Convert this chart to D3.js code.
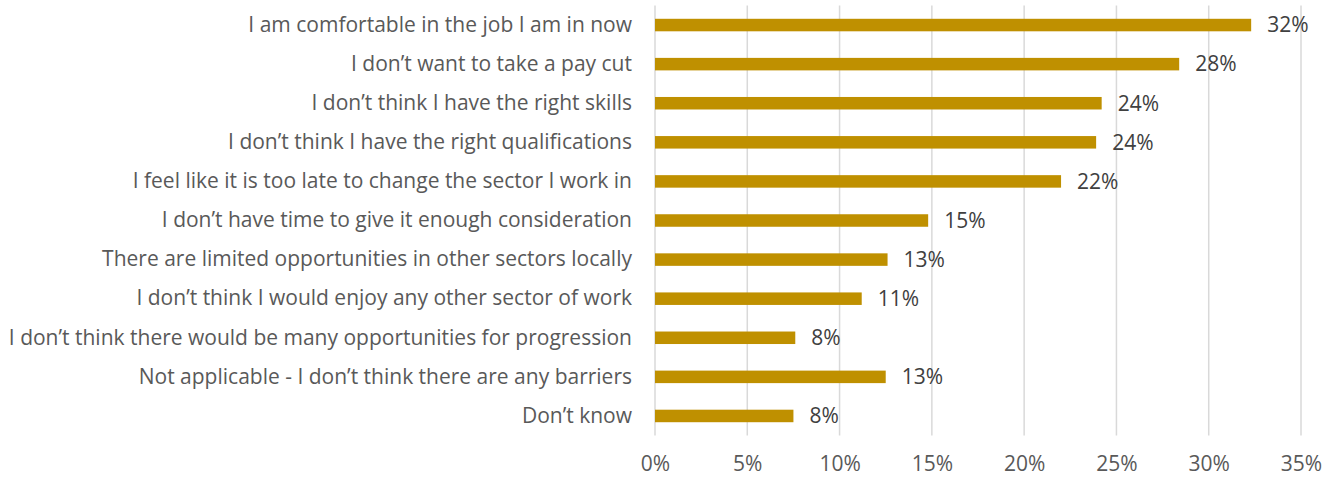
<!DOCTYPE html>
<html>
<head>
<meta charset="utf-8">
<script src="https://cdn.jsdelivr.net/npm/d3@7"></script>
<style>
  html, body { margin: 0; padding: 0; background: #fff; }
  svg { display: block; }
  text { font-family: "Open Sans", Lato, sans-serif; }
</style>
</head>
<body>
<svg id="chart" width="1338" height="479"></svg>
<script>
// Reasons respondents give for not changing sector (share of respondents)
const categories = [
  "I am comfortable in the job I am in now",
  "I don\u2019t want to take a pay cut",
  "I don\u2019t think I have the right skills",
  "I don\u2019t think I have the right qualifications",
  "I feel like it is too late to change the sector I work in",
  "I don\u2019t have time to give it enough consideration",
  "There are limited opportunities in other sectors locally",
  "I don\u2019t think I would enjoy any other sector of work",
  "I don\u2019t think there would be many opportunities for progression",
  "Not applicable - I don\u2019t think there are any barriers",
  "Don\u2019t know"
];
const values = [0.323, 0.284, 0.242, 0.239, 0.220, 0.148, 0.126, 0.112, 0.076, 0.125, 0.075];
const xTicks = [0, 0.05, 0.10, 0.15, 0.20, 0.25, 0.30, 0.35];

const svg = d3.select("#chart");
const margin = { left: 655, right: 37, top: 5.5, bottom: 43.5 };
const W = 1338, H = 479;
const FONT = "'Open Sans', Lato, sans-serif";
const FS = 21;

const x = d3.scaleLinear()
  .domain([0, 0.35])
  .range([margin.left, W - margin.right]);

const y = d3.scaleBand()
  .domain(categories)
  .range([margin.top, H - margin.bottom])
  .paddingInner(0.68)
  .paddingOuter(0.34);

const pct = d3.format(".0%");

// vertical gridlines
svg.append("g")
  .selectAll("line")
  .data(xTicks)
  .join("line")
  .attr("x1", d => x(d)).attr("x2", d => x(d))
  .attr("y1", margin.top).attr("y2", H - margin.bottom)
  .attr("stroke", "#d9d9d9")
  .attr("stroke-width", 1.5);

// bars
svg.append("g")
  .selectAll("rect")
  .data(values)
  .join("rect")
  .attr("x", x(0))
  .attr("y", (d, i) => y(categories[i]))
  .attr("width", d => x(d) - x(0))
  .attr("height", y.bandwidth())
  .attr("fill", "#bf9000");

// value labels
svg.append("g")
  .selectAll("text")
  .data(values)
  .join("text")
  .attr("x", d => x(d) + 16)
  .attr("y", (d, i) => y(categories[i]) + y.bandwidth() / 2)
  .attr("dy", "0.35em")
  .attr("fill", "#404040")
  .attr("font-size", FS)
  .attr("font-family", FONT)
  .text(d => pct(d));

// category axis (labels only)
const yAxis = d3.axisLeft(y).tickSize(0).tickPadding(23);
svg.append("g")
  .attr("transform", `translate(${margin.left},0)`)
  .call(yAxis)
  .call(g => g.select(".domain").remove())
  .call(g => g.selectAll("text")
    .attr("fill", "#595959")
    .attr("font-size", FS)
    .attr("font-family", FONT));

// value axis (labels only)
const xAxis = d3.axisBottom(x).tickValues(xTicks).tickFormat(pct).tickSize(0).tickPadding(21);
svg.append("g")
  .attr("transform", `translate(0,${H - margin.bottom})`)
  .call(xAxis)
  .call(g => g.select(".domain").remove())
  .call(g => g.selectAll("text")
    .attr("fill", "#595959")
    .attr("font-size", FS)
    .attr("font-family", FONT));
</script>
</body>
</html>
